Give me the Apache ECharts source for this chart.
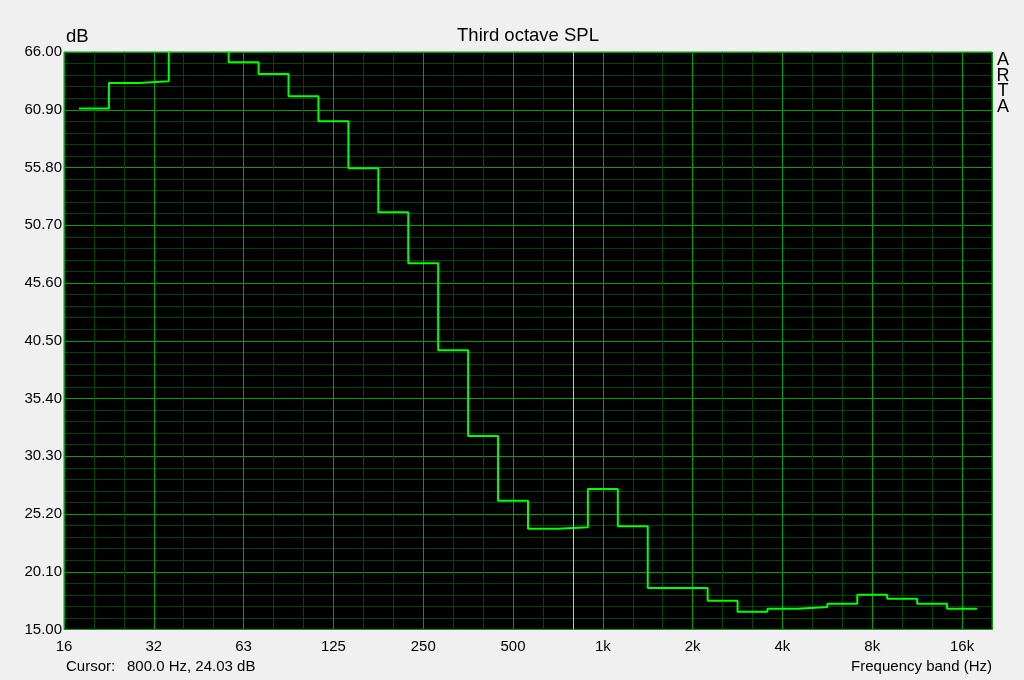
<!DOCTYPE html>
<html>
<head>
<meta charset="utf-8">
<script src="https://cdn.jsdelivr.net/npm/echarts@6/dist/echarts.min.js"></script>
<style>
html,body{margin:0;padding:0;background:#f0f0f0;}
#chart{width:1024px;height:680px;}
</style>
</head>
<body>
<div id="chart"></div>
<script>
// Third-octave band centres (20 Hz .. 16 kHz); band k sits at third-octave index k+1 above 16 Hz
const bandLabels = ['20','25','31.5','40','50','63','80','100','125','160','200','250','315','400','500','630','800','1k','1.25k','1.6k','2k','2.5k','3.15k','4k','5k','6.3k','8k','10k','12.5k','16k'];
// SPL per band (dB); 40 and 50 Hz bands are off the top of the scale
const splValues = [61.0, 63.26, 63.41, 67.5, 67.0, 65.09, 64.06, 62.09, 59.88, 55.74, 51.85, 47.35, 39.67, 32.08, 26.37, 23.90, 24.03, 27.40, 24.12, 18.67, 18.67, 17.55, 16.57, 16.84, 16.99, 17.28, 18.07, 17.72, 17.28, 16.84];
// Tick labels
const xTickLabels = ['16','32','63','125','250','500','1k','2k','4k','8k','16k'];
const yTickLabels = ['15.00','20.10','25.20','30.30','35.40','40.50','45.60','50.70','55.80','60.90','66.00'];
const yMin = 15, yMax = 66;
const cursorBandIndex = 17; // 800 Hz
const cursorText = '800.0 Hz, 24.03 dB';

const MAJOR = '#00a000', MINOR = '#004800';
const FONT = '"Liberation Sans", Arial, sans-serif';

// each band drawn as a flat segment from its lower to its upper edge
const stepData = [];
splValues.forEach((v, k) => { stepData.push([k + 0.5, v]); stepData.push([k + 1.5, v]); });

const chart = echarts.init(document.getElementById('chart'), null, {renderer: 'canvas'});
const txt = (text, x, y, size, align) => ({
  type: 'text', x: x, y: y, silent: true,
  style: {text: text, fill: '#000', font: size + 'px ' + FONT, textAlign: align || 'left', textVerticalAlign: 'middle'}
});
const graphics = [
  txt('dB', 66, 37, 18.5),
  txt('Third octave SPL', 528, 36, 18.5, 'center'),
  txt('Cursor:', 66, 667, 15),
  txt(cursorText, 127, 667, 15),
  txt('Frequency band (Hz)', 992, 667, 15, 'right')
];
'ARTA'.split('').forEach((c, i) => graphics.push(txt(c, 1003, 60 + i * 15.6, 18, 'center')));

const hiddenAxisBits = {axisLine: {show: false}, axisTick: {show: false}};
chart.setOption({
  animation: false,
  backgroundColor: '#f0f0f0',
  grid: {left: 64, right: 32, top: 52, bottom: 50.5, show: true, backgroundColor: '#000', borderColor: MAJOR, borderWidth: 1, containLabel: false},
  xAxis: [
    { // minor third-octave grid (also the data axis)
      type: 'value', min: 0, max: 31, interval: 1, ...hiddenAxisBits,
      axisLabel: {show: false},
      splitLine: {show: true, lineStyle: {color: MINOR, width: 1}}
    },
    { // octave grid + labels
      type: 'value', min: 0, max: 31, interval: 3, position: 'bottom', ...hiddenAxisBits,
      axisLabel: {
        margin: 10, color: '#000', fontSize: 15, fontFamily: FONT, showMaxLabel: false,
        formatter: v => (Math.round(v) % 3 === 0 && Math.round(v) / 3 < xTickLabels.length) ? xTickLabels[Math.round(v) / 3] : ''
      },
      splitLine: {show: true, lineStyle: {color: MAJOR, width: 1}}
    }
  ],
  yAxis: [
    { // minor grid
      type: 'value', min: 0, max: 50, interval: 1, ...hiddenAxisBits,
      axisLabel: {show: false},
      splitLine: {show: true, lineStyle: {color: MINOR, width: 1}}
    },
    { // major grid + labels
      type: 'value', min: 0, max: 50, interval: 5, position: 'left', ...hiddenAxisBits,
      axisLabel: {
        margin: 2, color: '#000', fontSize: 15, fontFamily: FONT,
        formatter: v => yTickLabels[Math.round(v / 5)]
      },
      splitLine: {show: true, lineStyle: {color: MAJOR, width: 1}}
    },
    { // data axis in dB
      type: 'value', min: yMin, max: yMax, show: false, splitLine: {show: false}
    }
  ],
  graphic: graphics,
  series: [{
    type: 'line', xAxisIndex: 0, yAxisIndex: 2, data: stepData, symbol: 'none', clip: true,
    lineStyle: {color: '#00ff00', width: 2},
    markLine: {
      silent: true, symbol: 'none', label: {show: false},
      lineStyle: {color: '#d8d040', width: 1, type: 'solid'},
      data: [{xAxis: cursorBandIndex}]
    },
    z: 3
  }]
});
</script>
</body>
</html>
